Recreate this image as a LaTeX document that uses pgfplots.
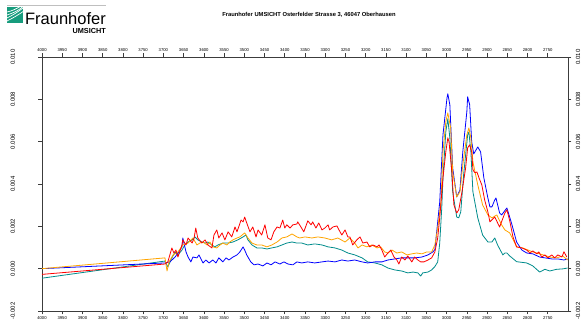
\documentclass[border=0pt]{standalone}
\usepackage{pgfplots}
\pgfplotsset{compat=1.18}
\usepackage{fontspec}
\setmainfont{Liberation Sans}

\definecolor{fhgreen}{RGB}{23,156,125}
\definecolor{cblue}{RGB}{0,0,255}
\definecolor{corange}{RGB}{255,165,0}
\definecolor{cred}{RGB}{255,0,0}
\definecolor{cteal}{RGB}{0,140,140}
\definecolor{axgray}{RGB}{60,60,60}

\pgfplotsset{
  specaxis/.style={
    at={(42pt,13pt)}, anchor=south west,
    scale only axis, width=526pt, height=254pt,
    xmin=2700, xmax=4000, x dir=reverse,
    ymin=-0.002, ymax=0.010,
    xtick={2750,2800,...,4000},
    ytick={-0.002,0,0.002,0.004,0.006,0.008,0.010},
    scaled ticks=false,
    /pgf/number format/assume math mode=true,
    xticklabel style={font=\fontsize{4.2}{5}\selectfont,
      /pgf/number format/set thousands separator={}, /pgf/number format/fixed},
    yticklabel style={font=\fontsize{6}{7}\selectfont, rotate=90,
      /pgf/number format/fixed, /pgf/number format/fixed zerofill, /pgf/number format/precision=3},
    axis line style={axgray, line width=0.7pt},
    tick style={axgray, line width=0.6pt},
    tick align=outside, major tick length=3.5pt,
  }
}

\begin{document}
\begin{tikzpicture}[x=1pt,y=1pt]
\path[use as bounding box, fill=white] (0,0) rectangle (584,324);

% header: logo and address
\fill[fhgreen] (7,301) rectangle (23,317);
\begin{scope}
\clip (7,301) rectangle (23,317);
\draw[white, line width=0.7pt] (7,306) .. controls (13,309) and (18,312) .. (23,316);
\draw[white, line width=0.7pt] (7,309) .. controls (13,311) and (18,313) .. (23,317.5);
\draw[white, line width=0.7pt] (7,312) .. controls (12,313) and (16,315) .. (21,318);
\draw[white, line width=0.7pt] (7,303) .. controls (13,306) and (18,309) .. (24,313);
\end{scope}
\draw[gray!50, line width=0.4pt] (7,318.5) -- (106,318.5);
\node[anchor=base east, inner sep=0pt, font=\fontsize{16.5}{18}\selectfont] at (106,299) {Fraunhofer};
\node[anchor=base east, inner sep=0pt, font=\bfseries\fontsize{7.3}{8}\selectfont] at (106,290) {UMSICHT};
\node[inner sep=0pt, font=\bfseries\fontsize{5.8}{7}\selectfont] at (309,309) {Fraunhofer UMSICHT Osterfelder Strasse 3, 46047 Oberhausen};

% labels on the upper and right sides
\begin{axis}[specaxis,
  xticklabel pos=top, yticklabel pos=right,
  axis line style={draw=none}, tick style={draw=none},
  yticklabel style={anchor=north, yshift=-1pt},
  xticklabel style={yshift=-1.5pt},
]
\end{axis}

\begin{axis}[specaxis,
  yticklabel style={anchor=south, yshift=20pt},
  xticklabel style={yshift=1pt},
  every axis plot/.append style={line width=0.8pt, line join=round},
]
% teal
\addplot[cteal] coordinates {
(4000,-0.00045) (3696,0.00036) (3689,0.00008) (3679,0.00051) (3671,0.00079) (3664,0.00065)
(3654,0.00088) (3647,0.00112) (3639,0.00126) (3629,0.00136) (3622,0.00150) (3615,0.00136)
(3605,0.00126) (3597,0.00121) (3590,0.00126) (3580,0.00112) (3573,0.00103) (3565,0.00112)
(3553,0.00121) (3540,0.00121) (3528,0.00126) (3516,0.00136) (3503,0.00150) (3496,0.00159)
(3491,0.00136) (3481,0.00112) (3469,0.00098) (3457,0.00098) (3444,0.00093) (3432,0.00098)
(3419,0.00103) (3407,0.00112) (3395,0.00121) (3382,0.00126) (3370,0.00121) (3358,0.00121)
(3343,0.00112) (3326,0.00117) (3308,0.00112) (3293,0.00103) (3276,0.00098) (3259,0.00088)
(3244,0.00074) (3227,0.00065) (3209,0.00051) (3195,0.00032) (3177,0.00027) (3160,0.00018)
(3145,0.00003) (3128,-0.00006) (3111,-0.00011) (3096,-0.00020) (3083,-0.00016) (3071,-0.00020)
(3064,-0.00035) (3059,-0.00020) (3046,-0.00016) (3037,-0.00006) (3029,0.00010) (3022,0.00032)
(3017,0.00121) (3012,0.00287) (3009,0.00429) (3002,0.00646) (2997,0.00708) (2992,0.00618)
(2985,0.00363) (2975,0.00244) (2970,0.00240) (2965,0.00268) (2958,0.00443) (2948,0.00632)
(2945,0.00646) (2940,0.00552) (2935,0.00363) (2923,0.00240) (2911,0.00159) (2898,0.00126)
(2888,0.00126) (2881,0.00145) (2874,0.00112) (2861,0.00065) (2856,0.00074) (2851,0.00074)
(2844,0.00060) (2827,0.00033) (2802,0.00027) (2787,0.00013) (2770,-0.00016) (2757,-0.00003)
(2745,-0.00011) (2728,-0.00003) (2713,-0.00001) (2701,0.00003)
};
% blue
\addplot[cblue] coordinates {
(4000,0.00000) (3696,0.00027) (3684,0.00032) (3671,0.00055) (3664,0.00074) (3654,0.00103)
(3652,0.00145) (3644,0.00079) (3639,0.00055) (3632,0.00032) (3627,0.00055) (3617,0.00051)
(3612,0.00065) (3602,0.00027) (3595,0.00041) (3587,0.00027) (3578,0.00041) (3570,0.00027)
(3563,0.00051) (3553,0.00032) (3545,0.00051) (3538,0.00041) (3528,0.00055) (3518,0.00065)
(3511,0.00079) (3503,0.00103) (3499,0.00088) (3494,0.00065) (3484,0.00032) (3476,0.00018)
(3466,0.00022) (3454,0.00013) (3444,0.00027) (3434,0.00018) (3424,0.00032) (3412,0.00022)
(3402,0.00032) (3392,0.00022) (3380,0.00018) (3370,0.00032) (3358,0.00027) (3343,0.00032)
(3326,0.00027) (3308,0.00032) (3293,0.00036) (3276,0.00032) (3259,0.00041) (3244,0.00036)
(3227,0.00041) (3209,0.00032) (3195,0.00027) (3177,0.00032) (3160,0.00032) (3145,0.00041)
(3128,0.00046) (3111,0.00051) (3096,0.00051) (3079,0.00051) (3061,0.00055) (3046,0.00065)
(3034,0.00079) (3029,0.00090) (3017,0.00315) (3009,0.00632) (2999,0.00807) (2997,0.00826)
(2992,0.00774) (2985,0.00476) (2975,0.00339) (2967,0.00372) (2960,0.00552) (2950,0.00741)
(2948,0.00812) (2943,0.00774) (2938,0.00599) (2933,0.00542) (2923,0.00575) (2916,0.00552)
(2908,0.00429) (2898,0.00334) (2893,0.00292) (2888,0.00292) (2881,0.00325) (2878,0.00334)
(2869,0.00263) (2864,0.00254) (2851,0.00287) (2839,0.00211) (2827,0.00126) (2814,0.00088)
(2802,0.00074) (2787,0.00070) (2770,0.00055) (2757,0.00051) (2740,0.00046) (2725,0.00046)
(2710,0.00041) (2701,0.00046)
};
% orange
\addplot[corange] coordinates {
(4000,0.00000) (3696,0.00051) (3691,-0.00011) (3686,0.00032) (3676,0.00065) (3664,0.00079)
(3652,0.00112) (3639,0.00121) (3627,0.00145) (3617,0.00112) (3610,0.00121) (3602,0.00126)
(3592,0.00112) (3585,0.00126) (3578,0.00103) (3568,0.00098) (3560,0.00112) (3553,0.00121)
(3543,0.00112) (3536,0.00126) (3528,0.00136) (3518,0.00145) (3511,0.00150) (3499,0.00169)
(3491,0.00145) (3481,0.00121) (3469,0.00112) (3457,0.00112) (3444,0.00103) (3432,0.00112)
(3419,0.00126) (3407,0.00145) (3395,0.00150) (3382,0.00164) (3370,0.00150) (3363,0.00145)
(3350,0.00150) (3333,0.00145) (3318,0.00150) (3301,0.00145) (3284,0.00136) (3269,0.00145)
(3251,0.00126) (3239,0.00145) (3227,0.00121) (3219,0.00098) (3209,0.00112) (3197,0.00103)
(3185,0.00112) (3172,0.00098) (3163,0.00103) (3153,0.00079) (3145,0.00074) (3135,0.00088)
(3123,0.00074) (3111,0.00079) (3098,0.00065) (3086,0.00070) (3074,0.00074) (3061,0.00070)
(3049,0.00079) (3037,0.00079) (3029,0.00112) (3022,0.00192) (3014,0.00315) (3009,0.00552)
(3002,0.00694) (2997,0.00736) (2990,0.00665) (2985,0.00457) (2975,0.00339) (2967,0.00363)
(2960,0.00490) (2950,0.00632) (2945,0.00665) (2940,0.00618) (2935,0.00505) (2923,0.00396)
(2911,0.00301) (2898,0.00254) (2888,0.00240) (2876,0.00254) (2864,0.00207) (2856,0.00183)
(2844,0.00169) (2827,0.00103) (2812,0.00098) (2787,0.00079) (2770,0.00070) (2745,0.00055)
(2728,0.00051) (2713,0.00060) (2701,0.00041)
};
% red
\addplot[cred] coordinates {
(4000,-0.00027) (3696,0.00022) (3689,0.00032) (3679,0.00098) (3674,0.00074) (3669,0.00088)
(3664,0.00055) (3654,0.00112) (3652,0.00136) (3644,0.00112) (3639,0.00145) (3629,0.00121)
(3624,0.00145) (3620,0.00192) (3615,0.00145) (3605,0.00121) (3597,0.00136) (3590,0.00112)
(3580,0.00098) (3575,0.00159) (3568,0.00183) (3563,0.00145) (3555,0.00169) (3548,0.00136)
(3540,0.00174) (3531,0.00150) (3523,0.00197) (3518,0.00174) (3508,0.00230) (3503,0.00221)
(3499,0.00244) (3494,0.00216) (3486,0.00174) (3479,0.00197) (3471,0.00150) (3466,0.00183)
(3457,0.00159) (3449,0.00207) (3442,0.00145) (3434,0.00136) (3427,0.00174) (3419,0.00197)
(3412,0.00192) (3405,0.00230) (3400,0.00192) (3395,0.00207) (3387,0.00192) (3380,0.00207)
(3370,0.00211) (3368,0.00221) (3360,0.00197) (3353,0.00174) (3343,0.00226) (3335,0.00207)
(3331,0.00221) (3323,0.00192) (3316,0.00216) (3308,0.00183) (3301,0.00192) (3293,0.00207)
(3289,0.00183) (3281,0.00197) (3271,0.00202) (3266,0.00183) (3259,0.00159) (3251,0.00183)
(3244,0.00150) (3239,0.00150) (3232,0.00112) (3222,0.00136) (3214,0.00150) (3207,0.00121)
(3197,0.00126) (3190,0.00103) (3182,0.00112) (3172,0.00103) (3167,0.00112) (3160,0.00088)
(3153,0.00055) (3145,0.00074) (3138,0.00088) (3130,0.00055) (3123,0.00041) (3118,0.00022)
(3111,0.00055) (3103,0.00041) (3096,0.00060) (3086,0.00032) (3079,0.00055) (3071,0.00041)
(3064,0.00032) (3056,0.00032) (3046,0.00041) (3037,0.00051) (3029,0.00079) (3022,0.00145)
(3017,0.00240) (3009,0.00429) (3002,0.00552) (2997,0.00618) (2994,0.00599) (2987,0.00457)
(2982,0.00301) (2975,0.00263) (2970,0.00278) (2962,0.00363) (2953,0.00476) (2948,0.00571)
(2943,0.00585) (2938,0.00552) (2935,0.00467) (2930,0.00453) (2925,0.00457) (2920,0.00429)
(2913,0.00396) (2906,0.00325) (2898,0.00268) (2893,0.00221) (2881,0.00244) (2869,0.00197)
(2856,0.00263) (2851,0.00278) (2844,0.00226) (2836,0.00150) (2827,0.00103) (2814,0.00098)
(2802,0.00088) (2794,0.00074) (2787,0.00084) (2777,0.00070) (2772,0.00079) (2765,0.00055)
(2757,0.00065) (2750,0.00051) (2740,0.00065) (2733,0.00051) (2725,0.00065) (2715,0.00055)
(2710,0.00080) (2703,0.00055)
};
\end{axis}
\end{tikzpicture}
\end{document}
